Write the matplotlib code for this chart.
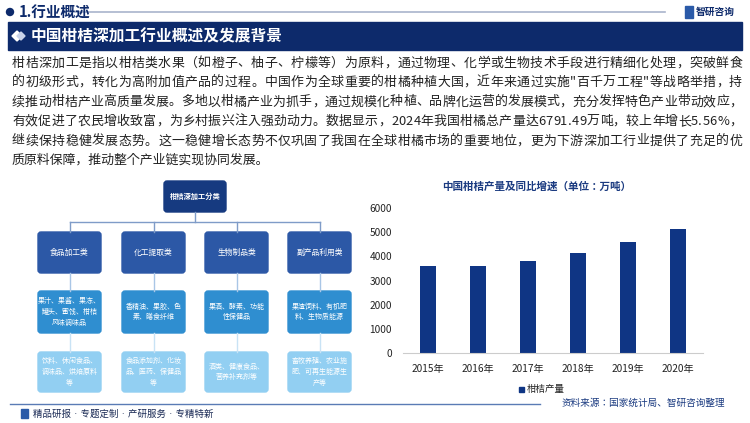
import matplotlib
matplotlib.use("Agg")
import matplotlib.pyplot as plt
from matplotlib.patches import Rectangle, FancyBboxPatch, Circle, Polygon

plt.rcParams["font.family"] = ["Noto Sans CJK JP", "DejaVu Sans"]

years = ["2015年", "2016年", "2017年", "2018年", "2019年", "2020年"]
output = [3600, 3580, 3820, 4140, 4580, 5120]
yticks = [0, 1000, 2000, 3000, 4000, 5000, 6000]

body_lines = [
    "柑桔深加工是指以柑桔类水果（如橙子、柚子、柠檬等）为原料，通过物理、化学或生物技术手段进行精细化处理，突破鲜食",
    "的初级形式，转化为高附加值产品的过程。中国作为全球重要的柑橘种植大国，近年来通过实施\"百千万工程\"等战略举措，持",
    "续推动柑桔产业高质量发展。多地以柑橘产业为抓手，通过规模化种植、品牌化运营的发展模式，充分发挥特色产业带动效应，",
    "有效促进了农民增收致富，为乡村振兴注入强劲动力。数据显示，2024年我国柑橘总产量达6791.49万吨，较上年增长5.56%，",
    "继续保持稳健发展态势。这一稳健增长态势不仅巩固了我国在全球柑橘市场的重要地位，更为下游深加工行业提供了充足的优",
    "质原料保障，推动整个产业链实现协同发展。",
]
level1 = ["食品加工类", "化工提取类", "生物制品类", "副产品利用类"]
level2 = ["果汁、果酱、果冻、\n罐头、蜜饯、柑桔\n风味调味品", "香精油、果胶、色\n素、膳食纤维",
          "果酒、酵素、功能\n性保健品", "果渣饲料、有机肥\n料、生物质能源"]
level3 = ["饮料、休闲食品、\n调味品、烘焙原料\n等", "食品添加剂、化妆\n品、医药、保健品\n等",
          "酒类、健康食品、\n营养补充剂等", "畜牧养殖、农业施\n肥、可再生能源生\n产等"]

W, H = 750, 423
fig = plt.figure(figsize=(7.5, 4.23), dpi=100)
bg = fig.add_axes([0, 0, 1, 1])
bg.set_xlim(0, W); bg.set_ylim(H, 0); bg.axis("off")
renderer = fig.canvas.get_renderer()

navy = "#0d2a6b"
# header
bg.add_patch(Circle((10, 12), 3.5, color=navy))
bg.text(19, 12, "1.行业概述", fontsize=10.5, fontweight="bold", color=navy, va="center")
bg.plot([70, 665], [12, 12], color="#a9b4cc", lw=1.2)
bg.add_patch(Rectangle((685, 6), 8, 12, color="#2a5aa8"))
bg.text(696, 12, "智研咨询", fontsize=7, fontweight="bold", color=navy, va="center")
bg.add_patch(Rectangle((8, 22), 734, 28, color=navy))
bg.add_patch(Polygon([(12, 36), (17, 31), (22, 36), (17, 41)], color="white"))
bg.add_patch(Polygon([(17, 36), (21, 32), (25, 36), (21, 40)], color="#c9d3ea"))
bg.text(31, 36, "中国柑桔深加工行业概述及发展背景", fontsize=11.3, fontweight="bold", color="white", va="center")

# body, justified
fs = 9.3
for i, line in enumerate(body_lines):
    y = 63 + i * 19.5
    if i == len(body_lines) - 1:
        bg.text(12, y, line, fontsize=fs, color="#222222", va="center")
        continue
    widths = []
    for ch in line:
        t = bg.text(0, 0, ch, fontsize=fs)
        widths.append(t.get_window_extent(renderer).width)
        t.remove()
    gap = (730 - sum(widths)) / (len(line) - 1)
    x = 12
    for ch, w in zip(line, widths):
        bg.text(x, y, ch, fontsize=fs, color="#222222", va="center")
        x += w + gap

# diagram
bg.add_patch(FancyBboxPatch((164, 181), 62, 31, boxstyle="round,pad=0,rounding_size=3", color="#163a80"))
bg.text(195, 196.5, "柑桔深加工分类", fontsize=5.2, color="white", ha="center", va="center", fontweight="bold")
xs = [38, 122, 205, 288]
bw = 63
cx = [x + bw / 2 for x in xs]
bg.plot([195, 195], [212, 222], color="#7f9cc8", lw=1)
bg.plot([cx[0], cx[-1]], [222, 222], color="#7f9cc8", lw=1)
for i in range(4):
    c = cx[i]
    bg.plot([c, c], [222, 232], color="#7f9cc8", lw=1)
    bg.plot([c, c], [273, 291], color="#a9c6e6", lw=1)
    bg.plot([c, c], [333, 352], color="#c9e3f5", lw=1)
    bg.add_patch(FancyBboxPatch((xs[i], 232), bw, 41, boxstyle="round,pad=0,rounding_size=3", color="#2c58a6"))
    bg.text(c, 252.5, level1[i], fontsize=5.6, color="white", ha="center", va="center")
    bg.add_patch(FancyBboxPatch((xs[i], 291), bw, 42, boxstyle="round,pad=0,rounding_size=3", color="#2f8ed0"))
    bg.text(c, 312, level2[i], fontsize=5.0, color="white", ha="center", va="center", linespacing=1.45)
    bg.add_patch(FancyBboxPatch((xs[i], 352), bw, 40, boxstyle="round,pad=0,rounding_size=3", color="#92cff2"))
    bg.text(c, 372, level3[i], fontsize=5.0, color="white", ha="center", va="center", linespacing=1.45)

# footer
bg.plot([10, 540], [404, 404], color="#5a7bb5", lw=1)
bg.add_patch(Rectangle((21, 409), 7, 9, color="#2a5aa8"))
bg.text(33, 414, "精品研报 · 专题定制 · 产研服务 · 专精特新", fontsize=6.8, color="#1a2a55", va="center")
bg.text(725, 403, "资料来源：国家统计局、智研咨询整理", fontsize=6.9, color="#1a3a80", ha="right", va="center")

# bar chart
ax = fig.add_axes([403 / W, 1 - 353 / H, 300 / W, 145 / H])
ax.bar(range(len(years)), output, width=0.32, color="#0f3584")
ax.set_xlim(-0.5, 5.5); ax.set_ylim(0, 6000)
ax.set_yticks(yticks)
ax.set_xticks(range(len(years)))
ax.set_xticklabels(years)
ax.tick_params(length=0, labelsize=7.3, colors="#222222")
ax.tick_params(axis="y", pad=8)
ax.tick_params(axis="x", pad=8)
for s in ["top", "right", "left"]:
    ax.spines[s].set_visible(False)
ax.spines["bottom"].set_color("#cccccc")
ax.patch.set_alpha(0)
bg.text(537, 187, "中国柑桔产量及同比增速（单位：万吨）", fontsize=7.6, fontweight="bold", color="#1a3a80", ha="center", va="center")
bg.add_patch(Rectangle((519, 387), 5, 5, color="#0f3584"))
bg.text(527, 389.5, "柑桔产量", fontsize=6.8, color="#222222", va="center")

fig.savefig("out.png", dpi=100)
